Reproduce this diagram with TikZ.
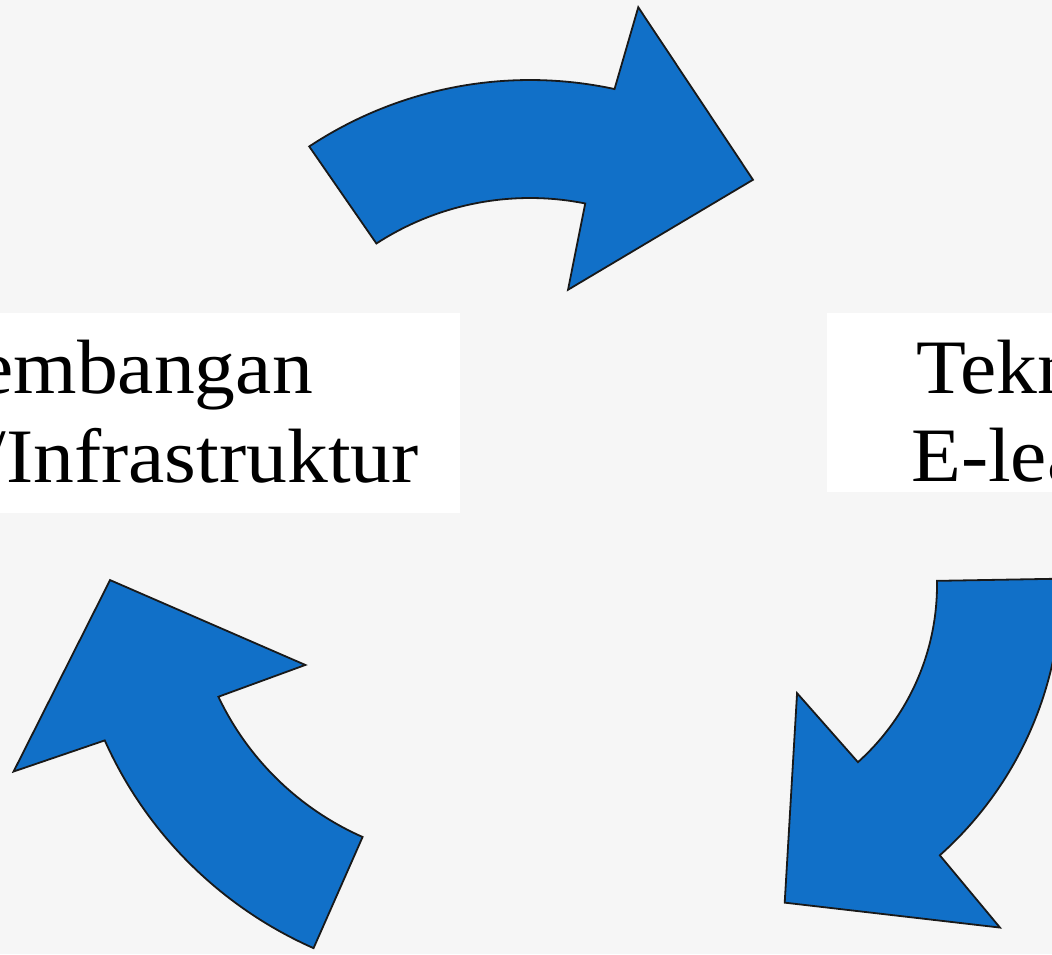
\documentclass[tikz,border=0pt]{standalone}
\usepackage{fontspec}
\setmainfont{Liberation Serif}[FakeStretch=1.06]
\usetikzlibrary{calc}
\definecolor{slidebg}{RGB}{246,246,246}
\definecolor{cycleblue}{RGB}{17,112,200}
\tikzset{
  blockarrow/.style={fill=cycleblue, draw=black!90, line width=1.8pt, line join=miter},
  caption/.style={inner sep=0pt, font=\fontsize{77}{88}\selectfont, text=black},
  panel/.style={fill=white},
}

\begin{document}
\begin{tikzpicture}[x=1pt, y=-1pt]
\useasboundingbox (0,0) rectangle (1052,954);
\clip (0,0) rectangle (1052,954);
\fill[slidebg] (0,0) rectangle (1052,954);
% text panels
\fill[panel] (-5,313) rectangle (460,513);
\fill[panel] (827,313) rectangle (1060,492);
\node[caption, anchor=base east] (devA) at (313,393) {embangan};
\node[caption, anchor=base east] (devB) at (419,482) {/Infrastruktur};
\node[caption, anchor=base west] (tekA) at (916,393) {Tekn};
\node[caption, anchor=base west] (tekB) at (911,481) {E-lea};
% centres of the three bent arrows
\coordinate (ctop) at (530,480);
\coordinate (cleft) at (479,573);
\coordinate (cright) at (699,585);
% top arrow
\draw[blockarrow] ($(ctop)+(-123:282)$) -- ($(ctop)+(-123.5:400)$)
  arc[start angle=-123.5, end angle=-77.8, radius=400]
  -- ($(ctop)+(-77.1:485)$) -- ($(ctop)+(-53.4:374)$) -- ($(ctop)+(-78.7:194)$)
  -- ($(ctop)+(-78.7:282)$) arc[start angle=-78.7, end angle=-123, radius=282] -- cycle;
% right arrow
\draw[blockarrow] ($(cright)+(-1:238)$) -- ($(cright)+(-1:362)$)
  arc[start angle=-1, end angle=48.3, radius=362]
  -- ($(cright)+(48.7:456)$) -- ($(cright)+(74.9:329)$) -- ($(cright)+(47.8:146)$)
  -- ($(cright)+(48.1:238)$) arc[start angle=48.1, end angle=-1, radius=238] -- cycle;
% left arrow
\draw[blockarrow] ($(cleft)+(113.8:288.5)$) -- ($(cleft)+(113.8:410)$)
  arc[start angle=113.8, end angle=155.9, radius=410]
  -- ($(cleft)+(156.9:506)$) -- ($(cleft)+(178.9:369)$) -- ($(cleft)+(152.1:196.5)$)
  -- ($(cleft)+(154.6:288.5)$) arc[start angle=154.6, end angle=113.8, radius=288.5] -- cycle;
\end{tikzpicture}
\end{document}
